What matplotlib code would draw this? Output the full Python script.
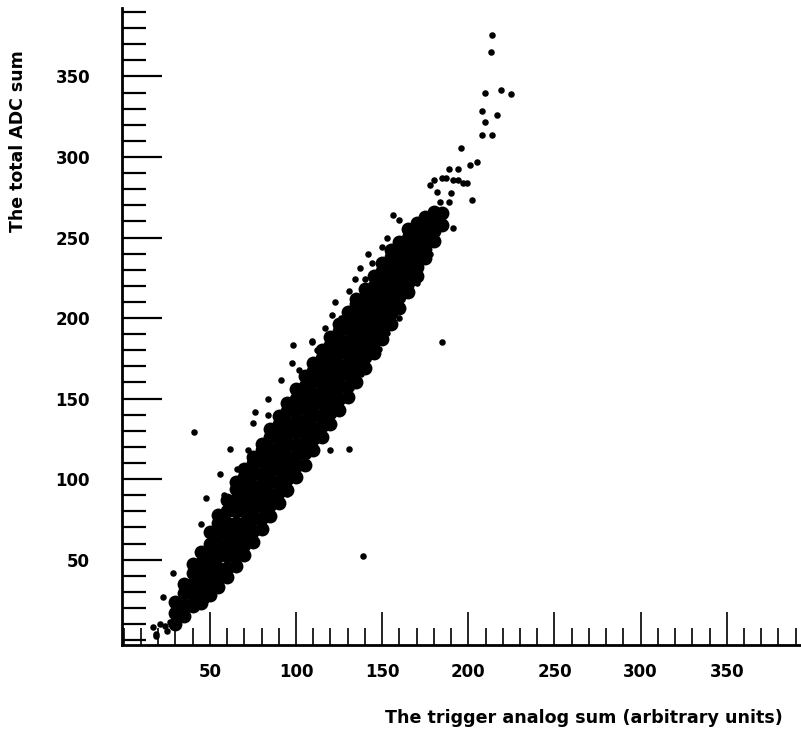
import matplotlib
matplotlib.use('Agg')
import matplotlib.pyplot as plt
from matplotlib.ticker import MultipleLocator

# dense core of the band: columns of trigger sum with the ADC values stacked in each
core_x = [30, 35, 40, 45, 50, 55, 60, 65, 70, 75, 80, 85, 90, 95, 100, 105, 110,
          115, 120, 125, 130, 135, 140, 145, 150, 155, 160, 165, 170, 175, 180, 185]
core_y = [
    [10, 17, 24],
    [15, 22, 29, 35],
    [21, 28, 35, 42, 47],
    [23, 27, 34, 41, 48, 55],
    [28, 32, 39, 46, 53, 60, 67],
    [33, 38, 45, 52, 59, 66, 73, 78],
    [39, 45, 52, 59, 66, 73, 80, 87],
    [46, 52, 59, 66, 73, 80, 87, 94, 98],
    [53, 59, 66, 73, 80, 87, 94, 101, 106],
    [61, 68, 75, 82, 89, 96, 103, 110, 114],
    [69, 76, 83, 90, 97, 104, 111, 118, 122],
    [77, 84, 91, 98, 105, 112, 119, 126, 131],
    [85, 92, 99, 106, 113, 120, 127, 134, 139],
    [93, 100, 107, 114, 121, 128, 135, 142, 147],
    [101, 108, 115, 122, 129, 136, 143, 150, 156],
    [109, 116, 123, 130, 137, 144, 151, 158, 164],
    [118, 125, 132, 139, 146, 153, 160, 167, 172],
    [126, 133, 140, 147, 154, 161, 168, 175, 180],
    [134, 141, 148, 155, 162, 169, 176, 183, 188],
    [143, 150, 157, 164, 171, 178, 185, 192, 196],
    [151, 158, 165, 172, 179, 186, 193, 200, 204],
    [160, 167, 174, 181, 188, 195, 202, 209, 212],
    [169, 176, 183, 190, 197, 204, 211, 218],
    [178, 185, 192, 199, 206, 213, 220, 226],
    [187, 194, 201, 208, 215, 222, 229, 234],
    [196, 203, 210, 217, 224, 231, 238, 242],
    [206, 213, 220, 227, 234, 241, 247],
    [216, 222, 229, 236, 243, 250, 255],
    [226, 232, 239, 246, 253, 259],
    [237, 243, 250, 257, 263],
    [248, 254, 261, 266],
    [258, 265],
]

# sparse events around the band and the outliers
halo_x = [17, 21, 24, 27, 19, 25, 19, 28.4, 22.6, 48, 55.7, 61.5, 80, 90.5, 95,
          61.5, 75, 76, 83.6, 91, 97.5, 98, 109, 122, 119.5, 131, 147,
          156, 153, 141.6, 137, 134, 140, 130.6, 122.5, 121, 116.7, 109,
          191, 173.5, 166, 152.6, 153, 148, 185,
          213.6, 213, 209.5, 219, 225, 208, 216.5, 209.5, 208, 213.6, 195.6,
          205, 200.8, 193.8, 188.6, 185, 191, 196.7, 177.6, 181.7, 190, 202,
          189, 183.4, 184.6, 176, 160, 41, 139,
          45, 58, 66, 72, 84, 102, 112, 126, 144, 150,
          48, 58, 70, 88, 100, 115, 128, 138, 160, 170, 178,
          180, 187, 194, 199]
halo_y = [8, 10, 9, 11, 4, 6, 2.5, 41.6, 26.7, 88, 103, 40, 72.7, 90, 91,
          119, 135, 141.6, 150, 161.5, 172, 183, 186, 145, 118, 119, 181,
          264, 250, 240, 231, 224, 224, 217, 210, 202, 194, 185,
          256, 236, 228, 200.6, 191, 181, 185,
          375.8, 365, 340, 341.6, 339, 328.6, 326, 322, 313.7, 313.7, 305.6,
          297, 295, 292.5, 292.5, 287, 285.7, 283.9, 282.6, 278, 277.6, 273,
          272, 272, 261, 258, 261, 129, 52,
          72, 90, 106, 118, 140, 168, 180, 200, 234, 244,
          25, 38, 55, 88, 104, 128, 150, 165, 200, 222, 240,
          286, 287, 286, 284]

xs = []
ys = []
for x, col in zip(core_x, core_y):
    for y in col:
        xs.append(x)
        ys.append(y)

fig = plt.figure(figsize=(8.01, 7.39), dpi=100)
ax = fig.add_axes([122/801, 94/739, 678/801, 637/739])

ax.scatter(xs, ys, s=100, c='black', linewidths=0)
ax.scatter(halo_x, halo_y, s=22, c='black', linewidths=0)

ax.set_xlim(-1, 392.5)
ax.set_ylim(-3, 392.5)

for side in ['top', 'right']:
    ax.spines[side].set_visible(False)
for side in ['left', 'bottom']:
    ax.spines[side].set_linewidth(2)

ax.set_xticks([50, 100, 150, 200, 250, 300, 350])
ax.set_yticks([50, 100, 150, 200, 250, 300, 350])
ax.xaxis.set_minor_locator(MultipleLocator(10))
ax.yaxis.set_minor_locator(MultipleLocator(10))

ax.tick_params(axis='y', which='major', direction='in', length=29, width=1.6, pad=23)
ax.tick_params(axis='y', which='minor', direction='in', length=17, width=1.6)
ax.tick_params(axis='x', which='major', direction='in', length=24, width=1.2, pad=13)
ax.tick_params(axis='x', which='minor', direction='in', length=12, width=1.2)

for lab in ax.get_xticklabels() + ax.get_yticklabels():
    lab.set_fontfamily('DejaVu Sans')
    lab.set_fontweight('bold')
    lab.set_fontsize(12)

fig.text(18/801, 1 - 141/739, 'The total ADC sum', rotation=90, ha='center', va='center',
         fontsize=12.5, fontweight='bold', family='DejaVu Sans')
fig.text(783/801, 1 - 718/739, 'The trigger analog sum (arbitrary units)', ha='right', va='center',
         fontsize=12.6, fontweight='bold', family='DejaVu Sans')

plt.savefig('out.png', dpi=100)
